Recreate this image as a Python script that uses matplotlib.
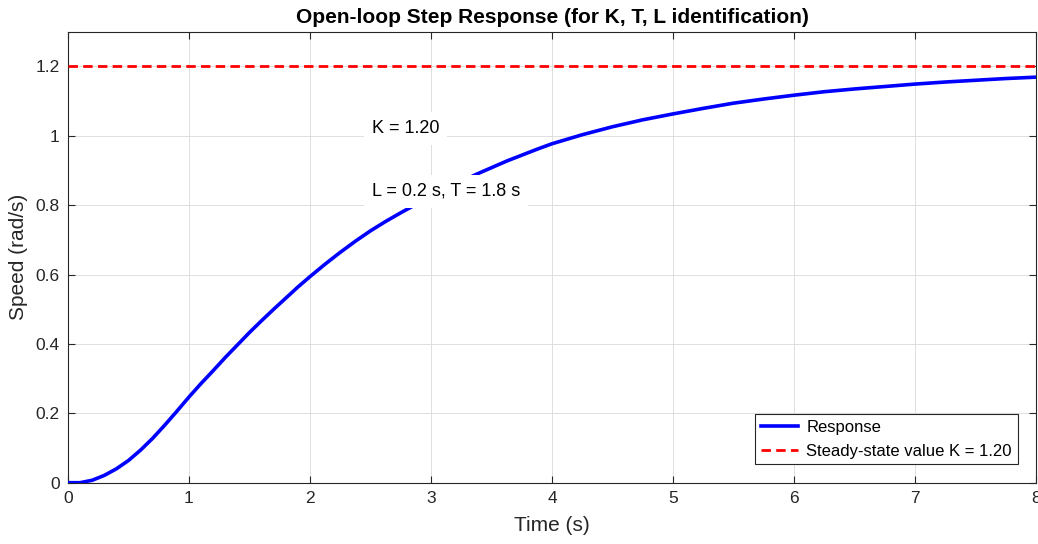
import matplotlib
matplotlib.use("Agg")
import matplotlib.pyplot as plt
from matplotlib.ticker import FormatStrFormatter

# step response (time in s, speed in rad/s)
time_s = [0, 0.1, 0.2, 0.3, 0.4, 0.5, 0.6, 0.7, 0.8, 0.9, 1.0, 1.1, 1.2,
          1.3, 1.4, 1.5, 1.6, 1.7, 1.8, 1.9, 2.0, 2.125, 2.25, 2.375, 2.5,
          2.625, 2.75, 2.875, 3.0, 3.125, 3.25, 3.375, 3.5, 3.625, 3.75,
          3.875, 4.0, 4.25, 4.5, 4.75, 5.0, 5.25, 5.5, 5.75, 6.0, 6.25,
          6.5, 6.75, 7.0, 7.25, 7.5, 7.75, 8.0]
speed = [0, 0.0, 0.007, 0.021, 0.040, 0.064, 0.094, 0.128, 0.166, 0.206,
         0.247, 0.286, 0.323, 0.361, 0.397, 0.433, 0.467, 0.500, 0.532,
         0.564, 0.594, 0.630, 0.664, 0.696, 0.726, 0.753, 0.778, 0.802,
         0.824, 0.847, 0.868, 0.889, 0.908, 0.927, 0.944, 0.961, 0.977,
         1.003, 1.026, 1.046, 1.063, 1.079, 1.094, 1.106, 1.117, 1.127,
         1.135, 1.142, 1.149, 1.155, 1.160, 1.165, 1.169]

K = 1.20
L = 0.2
T = 1.8
x_ticks = [0, 1, 2, 3, 4, 5, 6, 7, 8]
y_ticks = [0, 0.2, 0.4, 0.6, 0.8, 1.0, 1.2]

plt.rcParams['font.family'] = ['Liberation Sans', 'DejaVu Sans']
dark = (0.15, 0.15, 0.15)

fig = plt.figure(figsize=(10.38, 5.44), dpi=100)
ax = fig.add_axes([0.0655, 0.1127, 0.9325, 0.829])

ax.plot(time_s, speed, color='blue', linewidth=2.6, label='Response',
        solid_joinstyle='round', zorder=3)
ax.axhline(K, color='red', linewidth=2.0, linestyle=(0, (3.4, 1.9)),
           label=f'Steady-state value K = {K:.2f}', zorder=3)

box = dict(facecolor='white', edgecolor='none', boxstyle='square,pad=0.45')
ax.text(2.51, 1.02, f'K = {K:.2f}', fontsize=13, va='center', ha='left',
        color='black', bbox=box, zorder=4)
ax.text(2.51, 0.84, f'L = {L:.1f} s, T = {T:.1f} s', fontsize=13, va='center',
        ha='left', color='black', bbox=box, zorder=4)

ax.set_xlim(0, 8)
ax.set_ylim(0, 1.3)
ax.set_xticks(x_ticks)
ax.set_yticks(y_ticks)
ax.yaxis.set_major_formatter(FormatStrFormatter('%g'))
ax.tick_params(direction='in', length=5, width=0.8, top=True, right=True,
               labelsize=12.5, colors=dark, pad=6)
for s in ax.spines.values():
    s.set_color(dark)
    s.set_linewidth(0.8)
ax.grid(True, color=(0.87, 0.87, 0.87), linewidth=0.7)
ax.set_axisbelow(True)

ax.set_title('Open-loop Step Response (for K, T, L identification)',
             fontsize=15, fontweight='bold', pad=6)
ax.set_xlabel('Time (s)', fontsize=15, color=dark, labelpad=7)
ax.set_ylabel('Speed (rad/s)', fontsize=15, color=dark, labelpad=5)

leg = ax.legend(loc='lower right', fontsize=12, fancybox=False,
                framealpha=1, edgecolor=dark, handlelength=2.2,
                handletextpad=0.5, borderaxespad=1.1, borderpad=0.35)
leg.get_frame().set_linewidth(0.8)

fig.savefig('out.png', dpi=100)
